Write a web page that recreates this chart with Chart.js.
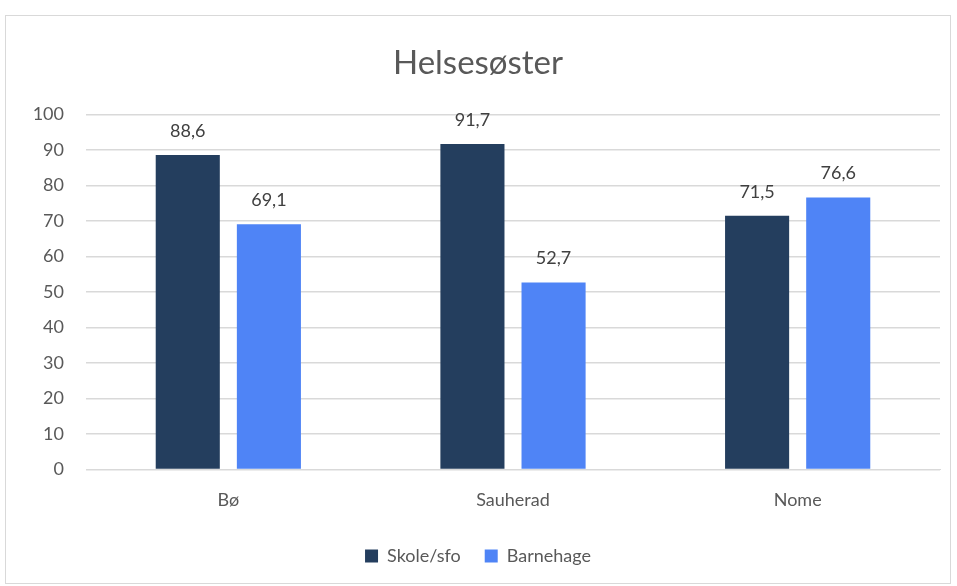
<!DOCTYPE html>
<html>
<head>
<meta charset="utf-8">
<script src="https://cdn.jsdelivr.net/npm/chart.js@4/dist/chart.umd.min.js"></script>
<style>
  html, body { margin: 0; padding: 0; background: #fff; }
  #wrap {
    position: absolute; left: 5px; top: 15px;
    width: 946px; height: 569px;
    border: 1px solid #d9d9d9; box-sizing: border-box;
  }
</style>
</head>
<body>
<div id="wrap"><canvas id="chart"></canvas></div>
<script>
const categories = ['Bø', 'Sauherad', 'Nome'];
const skoleSfo = [88.6, 91.7, 71.5];
const barnehage = [69.1, 52.7, 76.6];
const yTicks = [0, 10, 20, 30, 40, 50, 60, 70, 80, 90, 100];

const textColor = '#595959';
const fontFamily = 'Lato, "Open Sans", sans-serif';

// draw the value above each bar, with a decimal comma
const valueLabels = {
  id: 'valueLabels',
  afterDatasetsDraw(chart) {
    const ctx = chart.ctx;
    ctx.save();
    ctx.font = '18px ' + fontFamily;
    ctx.fillStyle = '#404040';
    ctx.textAlign = 'center';
    ctx.textBaseline = 'bottom';
    chart.data.datasets.forEach((ds, i) => {
      chart.getDatasetMeta(i).data.forEach((bar, j) => {
        ctx.fillText(ds.data[j].toFixed(1).replace('.', ','), bar.x, bar.y - 15);
      });
    });
    ctx.restore();
  }
};

new Chart(document.getElementById('chart'), {
  type: 'bar',
  data: {
    labels: categories,
    datasets: [
      {
        label: 'Skole/sfo',
        data: skoleSfo,
        backgroundColor: '#243e5e',
        categoryPercentage: 0.57,
        barPercentage: 0.79
      },
      {
        label: 'Barnehage',
        data: barnehage,
        backgroundColor: '#4f84f6',
        categoryPercentage: 0.57,
        barPercentage: 0.79
      }
    ]
  },
  options: {
    responsive: true,
    maintainAspectRatio: false,
    animation: false,
    layout: { padding: { top: 10, right: 10, bottom: 8, left: 10 } },
    scales: {
      x: {
        grid: { display: false },
        border: { color: '#d9d9d9' },
        ticks: { color: textColor, font: { size: 18, family: fontFamily }, padding: 12 }
      },
      y: {
        min: 0,
        max: 100,
        afterBuildTicks: (scale) => { scale.ticks = yTicks.map(v => ({ value: v })); },
        afterFit: (scale) => { scale.width = 70; },
        grid: { color: '#d9d9d9', lineWidth: 1.5, drawTicks: false },
        border: { display: false },
        ticks: { color: textColor, font: { size: 18, family: fontFamily }, padding: 22 }
      }
    },
    plugins: {
      title: {
        display: true,
        text: 'Helsesøster',
        color: textColor,
        font: { size: 33, weight: 'normal', family: fontFamily },
        padding: { top: 18, bottom: 31 }
      },
      legend: {
        position: 'bottom',
        labels: {
          color: textColor,
          font: { size: 18, family: fontFamily },
          boxWidth: 13,
          boxHeight: 13,
          padding: 24
        }
      },
      tooltip: { enabled: false }
    }
  },
  plugins: [valueLabels]
});
</script>
</body>
</html>
